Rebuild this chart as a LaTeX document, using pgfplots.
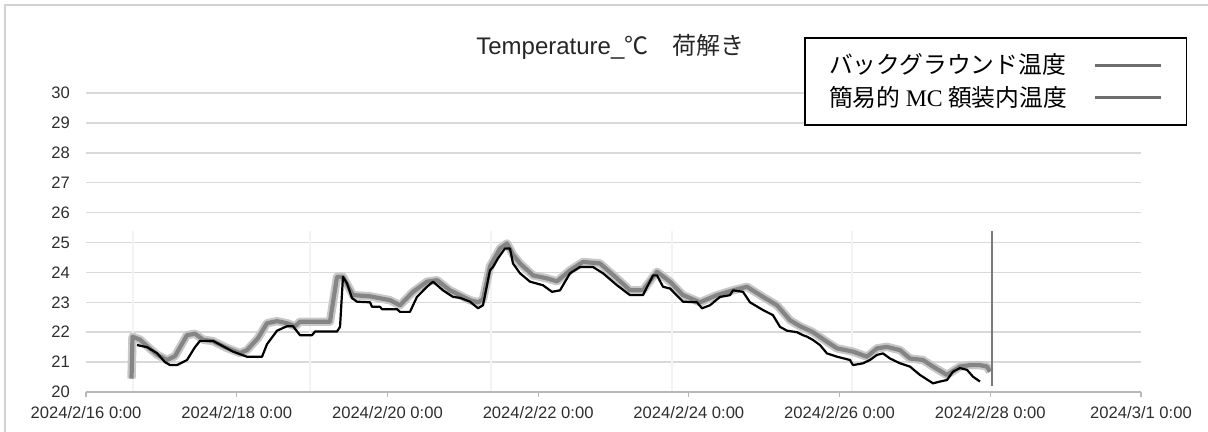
\documentclass[border=0pt]{standalone}
\usepackage{pgfplots}
\pgfplotsset{compat=1.18}
\usepackage{fontspec}
\setmainfont{Liberation Sans}
\newfontfamily\cjk{Noto Sans CJK JP}
\newfontfamily\serif{Liberation Serif}
\definecolor{gridc}{HTML}{D9D9D9}
\definecolor{txt}{HTML}{2E2E2E}
\definecolor{bgdark}{HTML}{858585}
\definecolor{bglight}{HTML}{C8C8C8}
\definecolor{vline}{HTML}{F3F3F3}
\definecolor{endline}{HTML}{7A7A7A}
\definecolor{legline}{HTML}{6E6E6E}

\pgfplotstableread{
x y
0.604 20.45
0.617 21.85
0.717 21.75
0.849 21.45
0.942 21.25
1.075 21.07
1.181 21.2
1.340 21.9
1.446 21.95
1.553 21.75
1.685 21.7
1.845 21.5
2.044 21.3
2.136 21.4
2.282 21.8
2.402 22.3
2.535 22.37
2.667 22.3
2.773 22.2
2.840 22.35
3.238 22.35
3.278 23.0
3.331 23.85
3.410 23.85
3.543 23.24
3.769 23.2
4.034 23.07
4.167 22.9
4.339 23.35
4.525 23.69
4.658 23.74
4.830 23.4
5.096 23.07
5.202 23.0
5.268 23.1
5.361 24.2
5.494 24.8
5.587 24.97
5.666 24.6
5.759 24.3
5.932 23.9
6.117 23.8
6.250 23.7
6.423 24.07
6.595 24.35
6.821 24.3
7.046 23.8
7.219 23.4
7.391 23.4
7.577 24.02
7.750 23.69
7.922 23.24
8.148 23.0
8.373 23.24
8.586 23.4
8.771 23.52
8.984 23.18
9.170 22.9
9.342 22.4
9.475 22.2
9.647 22.0
9.833 21.68
9.966 21.46
10.178 21.35
10.364 21.18
10.496 21.46
10.629 21.51
10.802 21.4
10.934 21.12
11.107 21.07
11.240 20.85
11.425 20.57
11.598 20.85
11.731 20.9
11.863 20.9
11.956 20.85
11.996 20.68
}\bgtable

\pgfplotstableread{
x y
0.677 21.57
0.809 21.5
0.942 21.3
1.048 21.0
1.115 20.9
1.208 20.9
1.340 21.07
1.446 21.5
1.513 21.71
1.685 21.71
1.951 21.35
2.136 21.18
2.336 21.18
2.402 21.6
2.535 22.05
2.667 22.2
2.747 22.2
2.840 21.9
2.999 21.9
3.039 22.02
3.331 22.02
3.371 22.18
3.410 23.85
3.463 23.64
3.530 23.14
3.596 23.02
3.769 23.0
3.795 22.85
3.901 22.85
3.928 22.77
4.127 22.77
4.167 22.68
4.299 22.68
4.392 23.18
4.525 23.52
4.605 23.69
4.737 23.4
4.870 23.18
4.963 23.15
5.096 23.02
5.202 22.8
5.268 22.9
5.361 24.07
5.401 24.18
5.467 24.47
5.560 24.8
5.626 24.8
5.666 24.3
5.759 23.97
5.892 23.69
6.064 23.57
6.184 23.35
6.290 23.4
6.423 23.97
6.555 24.18
6.728 24.18
6.861 23.97
7.046 23.57
7.219 23.24
7.391 23.24
7.524 23.9
7.577 23.9
7.657 23.52
7.750 23.46
7.922 23.02
8.108 23.0
8.174 22.8
8.280 22.9
8.413 23.18
8.546 23.24
8.586 23.4
8.718 23.35
8.811 23.0
8.984 22.74
9.116 22.57
9.209 22.18
9.302 22.05
9.435 22.0
9.515 21.9
9.568 21.85
9.647 21.74
9.740 21.57
9.833 21.29
9.966 21.18
10.138 21.07
10.178 20.9
10.311 20.96
10.403 21.07
10.496 21.24
10.576 21.29
10.669 21.12
10.802 20.96
10.934 20.85
11.067 20.57
11.240 20.29
11.333 20.35
11.425 20.4
11.505 20.68
11.598 20.8
11.691 20.74
11.771 20.51
11.863 20.35
}\mctable

\begin{document}
\begin{tikzpicture}
\clip (0pt,0pt) rectangle (604pt,216pt);
\path[use as bounding box] (0pt,0pt) rectangle (604pt,216pt);
\draw[color=gray!35, line width=1pt] (2.5pt,-10pt) -- (2.5pt,213.5pt) -- (620pt,213.5pt);
\begin{axis}[
  at={(43pt,20pt)}, anchor=south west,
  scale only axis, width=527.5pt, height=149.5pt,
  xmin=0, xmax=14, ymin=20, ymax=30,
  xtick={0,2,4,6,8,10,12,14},
  xticklabels={2024/2/16 0:00,2024/2/18 0:00,2024/2/20 0:00,2024/2/22 0:00,2024/2/24 0:00,2024/2/26 0:00,2024/2/28 0:00,2024/3/1 0:00},
  ytick={20,21,...,30},
  ymajorgrids, grid style={color=gridc, line width=0.75pt},
  axis x line*=bottom, axis y line*=left,
  y axis line style={draw=none},
  x axis line style={color=gridc!85!black, line width=0.75pt},
  xtick style={color=gridc!85!black, line width=0.6pt},
  ytick style={draw=none},
  tick align=outside, major tick length=2.5pt,
  ticklabel style={font=\fontsize{8.3}{10}\selectfont, text=txt},
  yticklabel style={xshift=-2pt},
  xticklabel style={yshift=-1pt},
  /pgf/number format/assume math mode=true,
  title={\fontsize{12}{14}\selectfont Temperature\_{\cjk ℃}\hspace{1em}{\cjk 荷解き}},
  title style={at={(0.497,1.114)}, anchor=center, text=black!85},
  legend plot pos=right,
  legend cell align=left,
  legend style={at={(1.0436,1.187)}, anchor=north east, draw=black, line width=0.75pt,
    inner xsep=12pt, inner ysep=8pt, row sep=4.6pt,
    font=\fontsize{11.9}{12}\selectfont,
    nodes={inner sep=0pt},
    /tikz/every odd column/.append style={column sep=13pt}},
  legend image code/.code={\draw[#1] (0pt,0pt) -- (33pt,0pt);},
]
\addplot[color=vline, line width=1.2pt, forget plot] coordinates {(0.624,20.05) (0.624,25.4)};
\addplot[color=vline, line width=1.2pt, forget plot] coordinates {(2.972,20.05) (2.972,25.4)};
\addplot[color=vline, line width=1.2pt, forget plot] coordinates {(5.374,20.05) (5.374,25.4)};
\addplot[color=vline, line width=1.2pt, forget plot] coordinates {(7.776,20.05) (7.776,25.4)};
\addplot[color=vline, line width=1.2pt, forget plot] coordinates {(10.165,20.05) (10.165,25.4)};
\addplot[color=bglight, line width=4.2pt, line join=round, forget plot] table[x=x,y=y] {\bgtable};
\addplot[color=bgdark, line width=2.1pt, line join=round, forget plot] table[x=x,y=y] {\bgtable};
\addplot[color=endline, line width=1.2pt, forget plot] coordinates {(12.02,20.2) (12.02,25.4)};
\addplot[color=black, line width=1.1pt, line join=round, forget plot] table[x=x,y=y] {\mctable};
\addlegendimage{color=legline, line width=1.6pt}
\addlegendentry{\makebox[119pt][l]{\cjk バックグラウンド温度}}
\addlegendimage{color=legline, line width=1.6pt}
\addlegendentry{\makebox[119pt][l]{\cjk 簡易的 {\serif MC} 額装内温度}}
\end{axis}
\end{tikzpicture}
\end{document}
